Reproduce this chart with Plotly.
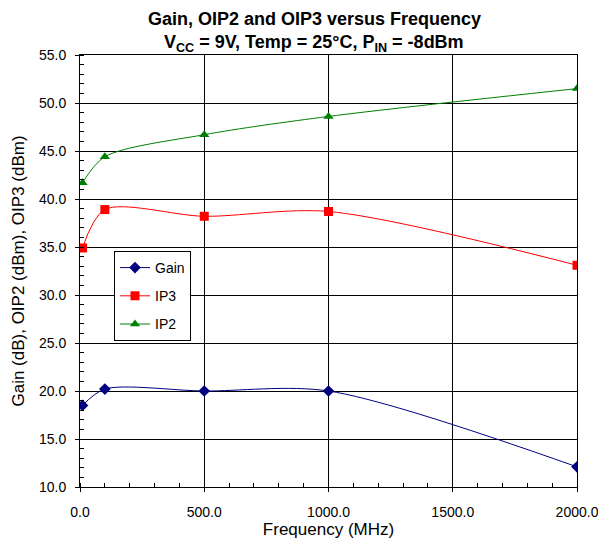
import plotly.graph_objects as go

freq = [10, 100, 500, 1000, 2000]
gain = [18.5, 20.2, 20.0, 20.0, 12.1]
ip3 = [34.9, 38.9, 38.2, 38.7, 33.1]
ip2 = [41.7, 44.4, 46.7, 48.6, 51.5]

series = [
    ("Gain", gain, "#000080", "diamond", 9),
    ("IP3", ip3, "#FF0000", "square", 9),
    ("IP2", ip2, "#008000", "triangle-up", 9),
]

fig = go.Figure()
for name, vals, col, sym, sz in series:
    fig.add_trace(go.Scatter(
        x=freq, y=vals, name=name, mode="lines+markers", legendgroup=name,
        line=dict(color=col, width=1, shape="spline", smoothing=0.85),
        marker=dict(color=col, symbol=sym, size=sz),
    ))

font = "Liberation Sans, Arial, sans-serif"
L, R, T, B = 80, 21, 55, 58
ph = 545 - T - B

def py(pix):
    return (545 - B - pix) / ph

fig.update_layout(
    width=598, height=545,
    margin=dict(l=L, r=R, t=T, b=B, autoexpand=False),
    paper_bgcolor="white", plot_bgcolor="white",
    font=dict(family=font, size=14, color="black"),
    legend=dict(
        x=(114 - L) / 497, y=py(251), xanchor="left", yanchor="top",
        bgcolor="white", bordercolor="black", borderwidth=1,
        font=dict(size=14), itemwidth=30, traceorder="grouped", tracegroupgap=7,
    ),
    showlegend=True,
    annotations=[
        dict(text="<b>Gain, OIP2 and OIP3 versus Frequency</b>", xref="paper", yref="paper",
             x=(314 - L) / 497, y=py(19), xanchor="center", yanchor="middle",
             showarrow=False, font=dict(size=18, family=font)),
        dict(text="<b>V<sub>CC</sub> = 9V, Temp = 25°C, P<sub>IN</sub> = -8dBm</b>", xref="paper", yref="paper",
             x=(314 - L) / 497, y=py(43), xanchor="center", yanchor="middle",
             showarrow=False, font=dict(size=18, family=font)),
    ],
)
fig.update_xaxes(
    range=[0, 2000], tickvals=[0, 500, 1000, 1500, 2000], tickformat=".1f",
    showgrid=True, gridcolor="black", gridwidth=1,
    showline=True, linecolor="black", linewidth=1, mirror=True,
    ticks="outside", ticklen=4, tickcolor="black", ticklabelstandoff=8,
    ticklabeloverflow="allow",
    minor=dict(ticks="inside", ticklen=4, dtick=100, tickcolor="black", showgrid=False),
    title=dict(text="Frequency (MHz)", font=dict(size=17), standoff=3),
    zeroline=False, automargin=False, tickfont=dict(size=14),
)
fig.update_yaxes(
    range=[10, 55], dtick=5, tick0=10, tickformat=".1f",
    showgrid=True, gridcolor="black", gridwidth=1,
    showline=True, linecolor="black", linewidth=1, mirror=True,
    ticks="outside", ticklen=4, tickcolor="black", ticklabelstandoff=6,
    ticklabeloverflow="allow",
    minor=dict(ticks="inside", ticklen=4, dtick=1, tickcolor="black", showgrid=False),
    title=dict(text="Gain (dB), OIP2 (dBm), OIP3 (dBm)", font=dict(size=17), standoff=10),
    zeroline=False, automargin=False, tickfont=dict(size=14),
)
fig.write_html("out.html", config={"displayModeBar": False},
               post_script="document.body.style.margin='0';document.body.style.padding='0';")
